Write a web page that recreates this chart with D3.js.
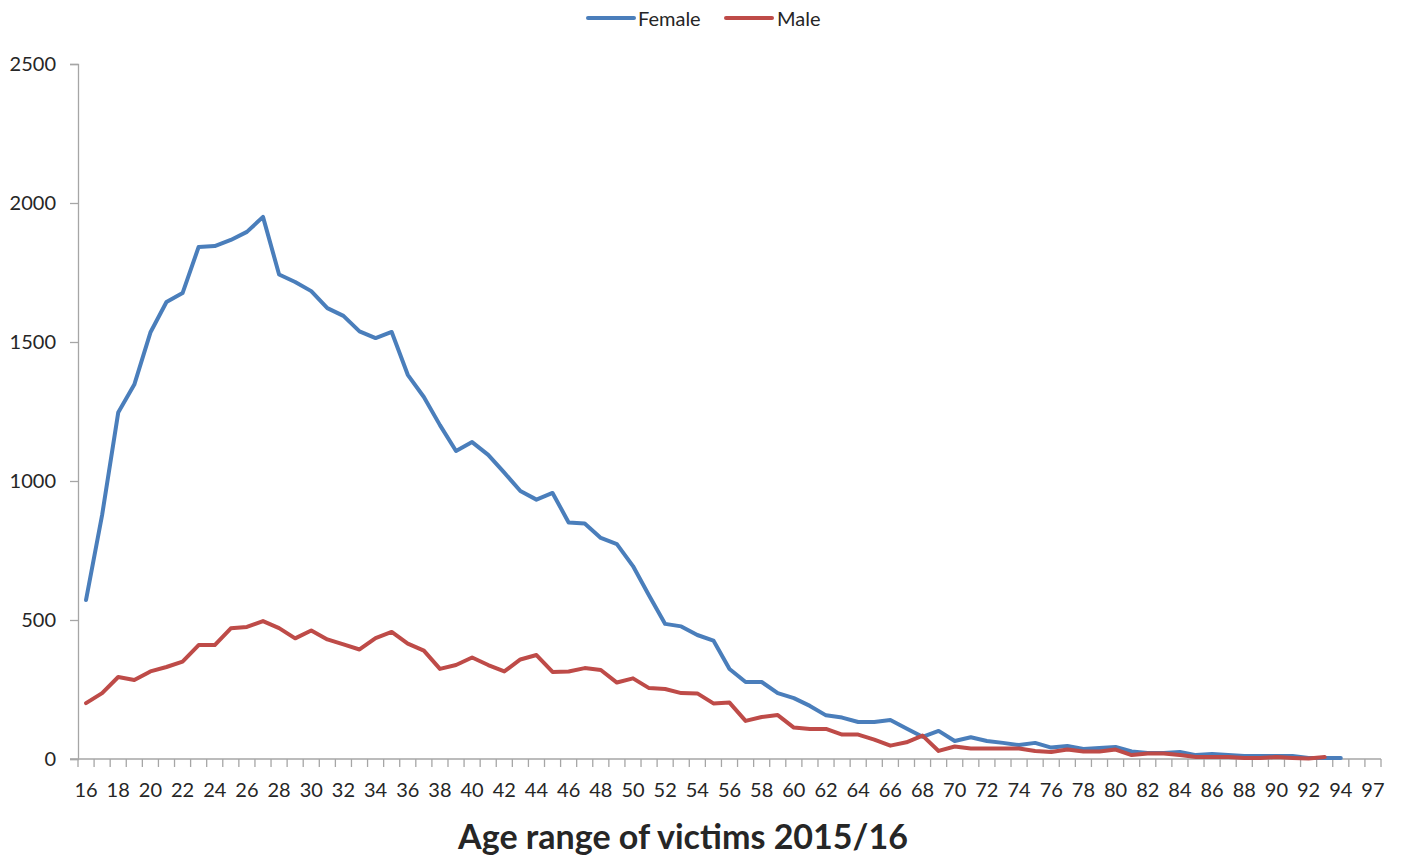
<!DOCTYPE html>
<html>
<head>
<meta charset="utf-8">
<script src="https://cdn.jsdelivr.net/npm/d3@7"></script>
<style>
  html, body { margin: 0; padding: 0; background: #fff; }
  svg { display: block; }
  text { font-family: Lato, "Open Sans", sans-serif; fill: #262626; }
</style>
</head>
<body>
<svg id="chart" width="1402" height="859"></svg>
<script>
// ---- Data ----
const ages = [16,17,18,19,20,21,22,23,24,25,26,27,28,29,30,31,32,33,34,35,36,37,38,39,40,
  41,42,43,44,45,46,47,48,49,50,51,52,53,54,55,56,57,58,59,60,61,62,63,64,65,66,67,68,69,70,
  71,72,73,74,75,76,77,78,79,80,81,82,83,84,85,86,87,88,89,90,91,92,93,94,95,97];

const female = [572,878,1246,1347,1534,1644,1676,1842,1845,1867,1896,1950,1743,1716,1683,1622,1594,1538,1514,1536,
  1382,1302,1201,1108,1140,1094,1030,964,933,957,851,847,795,773,694,588,486,477,446,426,
  324,277,277,237,219,191,157,149,133,133,140,110,80,101,65,78,65,58,50,58,
  41,47,36,40,43,27,22,22,25,14,18,14,11,11,11,11,4,4,4,null,null];

const male = [201,237,295,284,315,331,350,410,410,470,475,496,471,434,462,430,412,394,435,457,
  415,390,324,338,365,338,315,358,374,313,315,327,320,275,290,255,252,237,236,200,
  203,137,151,158,113,108,108,88,88,70,48,60,84,29,45,38,38,38,38,29,
  25,34,27,27,34,14,20,20,14,7,7,7,4,4,7,4,2,7,null,null,null];

const yTicks = [0,500,1000,1500,2000,2500];
const seriesNames = ["Female","Male"];
const seriesColors = ["#4A7EBB","#BE4B48"];
const chartTitle = "Age range of victims 2015/16";

// ---- Layout ----
const svg = d3.select("#chart");
const mLeft = 78, mRight = 1381, mTop = 64, mBottom = 759;
const axisColor = "#A6A6A6";

const x = d3.scaleBand().domain(ages.map(String)).range([mLeft, mRight]).padding(0);
const y = d3.scaleLinear().domain([0, 2500]).range([mBottom, mTop]);
const cx = a => x(String(a)) + x.bandwidth() / 2;

// Y axis
const yAxis = svg.append("g").attr("transform", `translate(${mLeft},0)`)
  .call(d3.axisLeft(y).tickValues(yTicks).tickSize(8).tickPadding(14).tickFormat(d3.format("d")));
yAxis.select(".domain").attr("stroke", axisColor).attr("stroke-width", 1.3);
yAxis.selectAll(".tick line").attr("stroke", axisColor).attr("stroke-width", 1.3);
yAxis.selectAll(".tick text").attr("font-size", 20).attr("fill", "#262626")
  .attr("font-family", "Lato, 'Open Sans', sans-serif");

// X axis line
svg.append("line").attr("x1", mLeft - 8).attr("x2", mRight)
  .attr("y1", y(0)).attr("y2", y(0)).attr("stroke", axisColor).attr("stroke-width", 1.3);

// X ticks at category boundaries
const boundaries = ages.map(a => x(String(a))).concat([x.range()[1]]);
svg.append("g").selectAll("line").data(boundaries).join("line")
  .attr("x1", d => d).attr("x2", d => d)
  .attr("y1", y(0)).attr("y2", y(0) + 8)
  .attr("stroke", axisColor).attr("stroke-width", 1.3);

// X labels every other category
svg.append("g").selectAll("text").data(ages.filter((a, i) => i % 2 === 0)).join("text")
  .attr("x", d => cx(d)).attr("y", 797)
  .attr("text-anchor", "middle").attr("font-size", 20)
  .text(d => d);

// Lines
const line = d3.line()
  .defined(d => d.v != null)
  .x(d => cx(d.a)).y(d => y(d.v));

[female, male].forEach((vals, i) => {
  const data = ages.map((a, j) => ({a, v: vals[j]}));
  svg.append("path").datum(data)
    .attr("fill", "none").attr("stroke", seriesColors[i])
    .attr("stroke-width", 4).attr("stroke-linejoin", "round").attr("stroke-linecap", "round")
    .attr("d", line);
});

// Legend
const legendItems = [{x: 588, tx: 638}, {x: 726, tx: 777}];
seriesNames.forEach((n, i) => {
  const L = legendItems[i];
  svg.append("line").attr("x1", L.x).attr("x2", L.x + 46).attr("y1", 18).attr("y2", 18)
    .attr("stroke", seriesColors[i]).attr("stroke-width", 4).attr("stroke-linecap", "round");
  svg.append("text").attr("x", L.tx).attr("y", 26).attr("font-size", 20).text(n);
});

// Title
const t = svg.append("text").attr("x", 683).attr("y", 849).attr("text-anchor", "middle")
  .attr("font-size", 35).attr("font-weight", "bold").text(chartTitle);
const w = t.node().getComputedTextLength();
if (w > 0) t.attr("font-size", 35 * 450 / w);
</script>
</body>
</html>
